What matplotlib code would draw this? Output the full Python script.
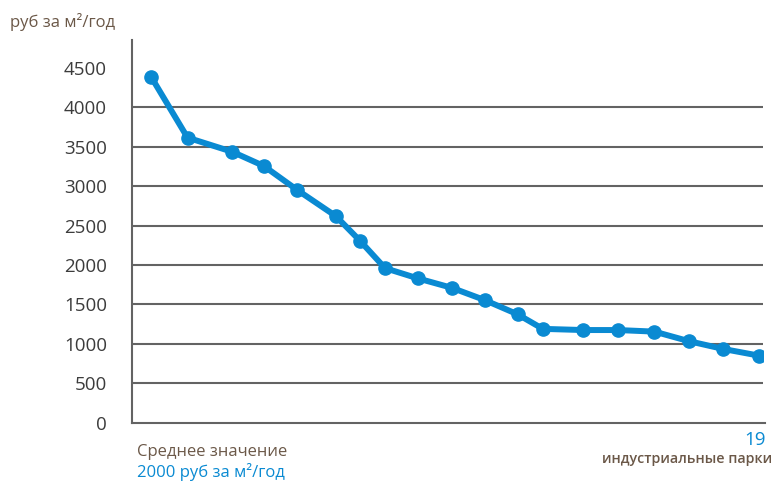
import matplotlib
matplotlib.use("Agg")
import matplotlib.pyplot as plt

# Rental rates of 19 industrial parks, sorted from most to least expensive
park_x = [3.0, 8.8, 15.9, 20.9, 26.2, 32.3, 36.1, 40.1, 45.3, 50.7,
          55.9, 61.1, 65.1, 71.5, 77.0, 82.8, 88.2, 93.7, 99.4]
rent = [4390, 3615, 3435, 3255, 2950, 2620, 2310, 1960, 1830, 1710,
        1555, 1375, 1190, 1175, 1175, 1155, 1035, 935, 850]
y_ticks = [0, 500, 1000, 1500, 2000, 2500, 3000, 3500, 4000, 4500]
grid_levels = [500, 1000, 1500, 2000, 2500, 3000, 3500, 4000]

unit_label = "руб за м²/год"
avg_caption = "Среднее значение"
avg_value = "2000 руб за м²/год"
park_count = "19"
park_caption = "индустриальные парки"

BLUE = "#0a8ad2"
GRID = "#636363"
TICK_TXT = "#3c3c3c"
BROWN = "#6b5848"

plt.rcParams["font.family"] = ["Open Sans", "DejaVu Sans"]

fig = plt.figure(figsize=(7.74, 4.83), dpi=100)
ax = fig.add_axes([132 / 774, (483 - 422.7) / 483, (763 - 132) / 774, (422.7 - 40) / 483])
ax.set_xlim(0, 100)
ax.set_ylim(0, 4853)

ax.hlines(grid_levels, 0, 100, colors=GRID, linewidth=1.5, zorder=1)
ax.plot(park_x, rent, color=BLUE, linewidth=4.3, marker="o", markersize=9.5,
        solid_capstyle="round", solid_joinstyle="round", zorder=3)

for side in ("top", "right"):
    ax.spines[side].set_visible(False)
for side in ("left", "bottom"):
    ax.spines[side].set_color(GRID)
    ax.spines[side].set_linewidth(1.5)
ax.spines["bottom"].set_bounds(0, 100.3)

ax.set_xticks([])
ax.set_yticks(y_ticks)
ax.set_yticklabels([str(v) for v in y_ticks], fontsize=13.5, color=TICK_TXT)
ax.tick_params(axis="y", length=0, pad=18)

fig.text(10 / 774, 1 - 22 / 483, unit_label, fontsize=12, color=BROWN,
         ha="left", va="center")
fig.text(137 / 774, 1 - 452 / 483, avg_caption, fontsize=12, color=BROWN,
         ha="left", va="center")
fig.text(137 / 774, 1 - 472 / 483, avg_value, fontsize=12, color=BLUE,
         ha="left", va="center")
fig.text(766 / 774, 1 - 440 / 483, park_count, fontsize=13.5, color=BLUE,
         ha="right", va="center")
fig.text(772 / 774, 1 - 459 / 483, park_caption, fontsize=10.3, color=BROWN,
         ha="right", va="center", fontweight="semibold")

fig.savefig("out.png", dpi=100)
